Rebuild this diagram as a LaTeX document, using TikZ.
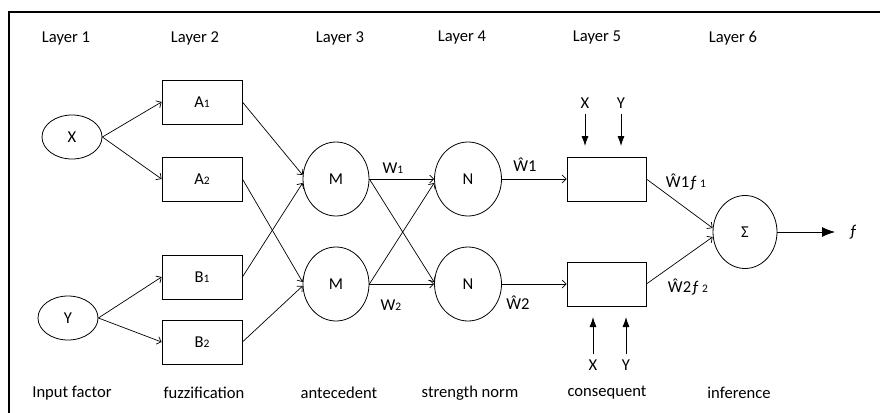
\documentclass[tikz,border=0pt]{standalone}
\usepackage{fontspec}
\setmainfont{Carlito}
\usetikzlibrary{shapes.geometric,arrows.meta}
\newcommand{\smallsub}[1]{{\fontsize{11.5}{11.5}\selectfont #1}}
\begin{document}
\begin{tikzpicture}[x=1pt,y=-1pt,
  font=\fontsize{16.6}{19}\selectfont,
  ell/.style={draw,ellipse,line width=0.8pt,inner sep=0pt},
  box/.style={draw,rectangle,line width=0.8pt,inner sep=0pt,minimum width=80pt,minimum height=44pt},
  lbl/.style={inner sep=0pt},
  conn/.style={line width=0.7pt,-{Straight Barb[length=4pt,width=8pt]}},
  fillarrow/.style={line width=0.8pt,-{Latex[length=10pt,width=7pt]}}
]
\useasboundingbox (0,0) rectangle (880,412);
% frame
\draw[line width=2pt] (9,413) -- (9,12) -- (881,12);

% layer labels
\node[lbl] (L1) at (66,38) {Layer 1};
\node[lbl] (L2) at (195,38) {Layer 2};
\node[lbl] (L3) at (340,38) {Layer 3};
\node[lbl] (L4) at (462,38) {Layer 4};
\node[lbl] (L5) at (597,38) {Layer 5};
\node[lbl] (L6) at (733,38) {Layer 6};

% bottom labels
\node[lbl] (b1) at (72,393) {Input factor};
\node[lbl] (b2) at (204,393) {fuzzification};
\node[lbl] (b3) at (339,393) {antecedent};
\node[lbl] (b4) at (470,393) {strength norm};
\node[lbl] (b5) at (607,393) {consequent};
\node[lbl] (b6) at (739,393) {inference};

% layer 1
\node[ell,minimum width=60pt,minimum height=44pt] (X) at (72,137) {X};
\node[ell,minimum width=60pt,minimum height=44pt] (Y) at (68,318) {Y};
% layer 2
\node[box] (A1) at (202,102) {A\smallsub{1}};
\node[box] (A2) at (202,179) {A\smallsub{2}};
\node[box] (B1) at (202,277) {B\smallsub{1}};
\node[box] (B2) at (202,342) {B\smallsub{2}};
% layer 3
\node[ell,minimum width=66pt,minimum height=74pt] (M1) at (336,179) {M};
\node[ell,minimum width=66pt,minimum height=74pt] (M2) at (336,284) {M};
% layer 4
\node[ell,minimum width=67pt,minimum height=74pt] (N1) at (468,179) {N};
\node[ell,minimum width=67pt,minimum height=74pt] (N2) at (468,284) {N};
% layer 5
\node[box,minimum width=79pt] (C1) at (606.5,179) {};
\node[box,minimum width=79pt] (C2) at (606.5,284) {};
% layer 6
\node[ell,minimum width=64pt,minimum height=73pt] (S) at (745,232) {Σ};

% connectors
\draw[conn] (X.east) -- (A1.west);
\draw[conn] (X.east) -- (A2.west);
\draw[conn] (Y.east) -- (B1.west);
\draw[conn] (Y.east) -- (B2.west);
\draw[conn] (A1.east) -- ([yshift=4pt]M1.west);
\draw[conn] (B1.east) -- ([yshift=-4pt]M1.west);
\draw[conn] (A2.east) -- ([yshift=2pt]M2.west);
\draw[conn] (B2.east) -- ([yshift=-2pt]M2.west);
\draw[conn] (M1.east) -- (N1.west);
\draw[conn] (M1.east) -- ([yshift=2pt]N2.west);
\draw[conn] (M2.east) -- ([yshift=-4pt]N1.west);
\draw[conn] (M2.east) -- (N2.west);
\draw[conn] (N1.east) -- (C1.west);
\draw[conn] (N2.east) -- (C2.west);
\draw[conn] (C1.east) -- ([yshift=4pt]S.west);
\draw[conn] (C2.east) -- ([yshift=-5pt]S.west);

\coordinate (fend) at (835,232);
\draw[line width=0.8pt,-{Latex[length=13pt,width=10pt]}] (S.east) -- (fend);
\node[lbl] (fout) at (853,232) {ƒ};

% edge labels
\node[lbl] (w1) at (393,168) {W\smallsub{1}};
\node[lbl] (w2) at (391,305) {W\smallsub{2}};
\node[lbl] (hw1) at (525,165) {Ŵ1};
\node[lbl] (hw2) at (518,303) {Ŵ2};
\node[lbl] (hwf1) at (686,182) {Ŵ1ƒ\,\smallsub{1}};
\node[lbl] (hwf2) at (688,287) {Ŵ2ƒ\,\smallsub{2}};

% consequent inputs
\node[lbl] (tx) at (585,103) {X};
\node[lbl] (ty) at (621,103) {Y};
\coordinate (tx2) at (585,146);
\coordinate (ty2) at (621,146);
\draw[fillarrow] ([yshift=-5pt]tx.south) -- (tx2);
\draw[fillarrow] ([yshift=-5pt]ty.south) -- (ty2);

\node[lbl] (bx) at (593,365) {X};
\node[lbl] (by) at (626,365) {Y};
\coordinate (bx2) at (593,317);
\coordinate (by2) at (626,317);
\draw[fillarrow] ([yshift=5pt]bx.north) -- (bx2);
\draw[fillarrow] ([yshift=5pt]by.north) -- (by2);
\end{tikzpicture}
\end{document}
